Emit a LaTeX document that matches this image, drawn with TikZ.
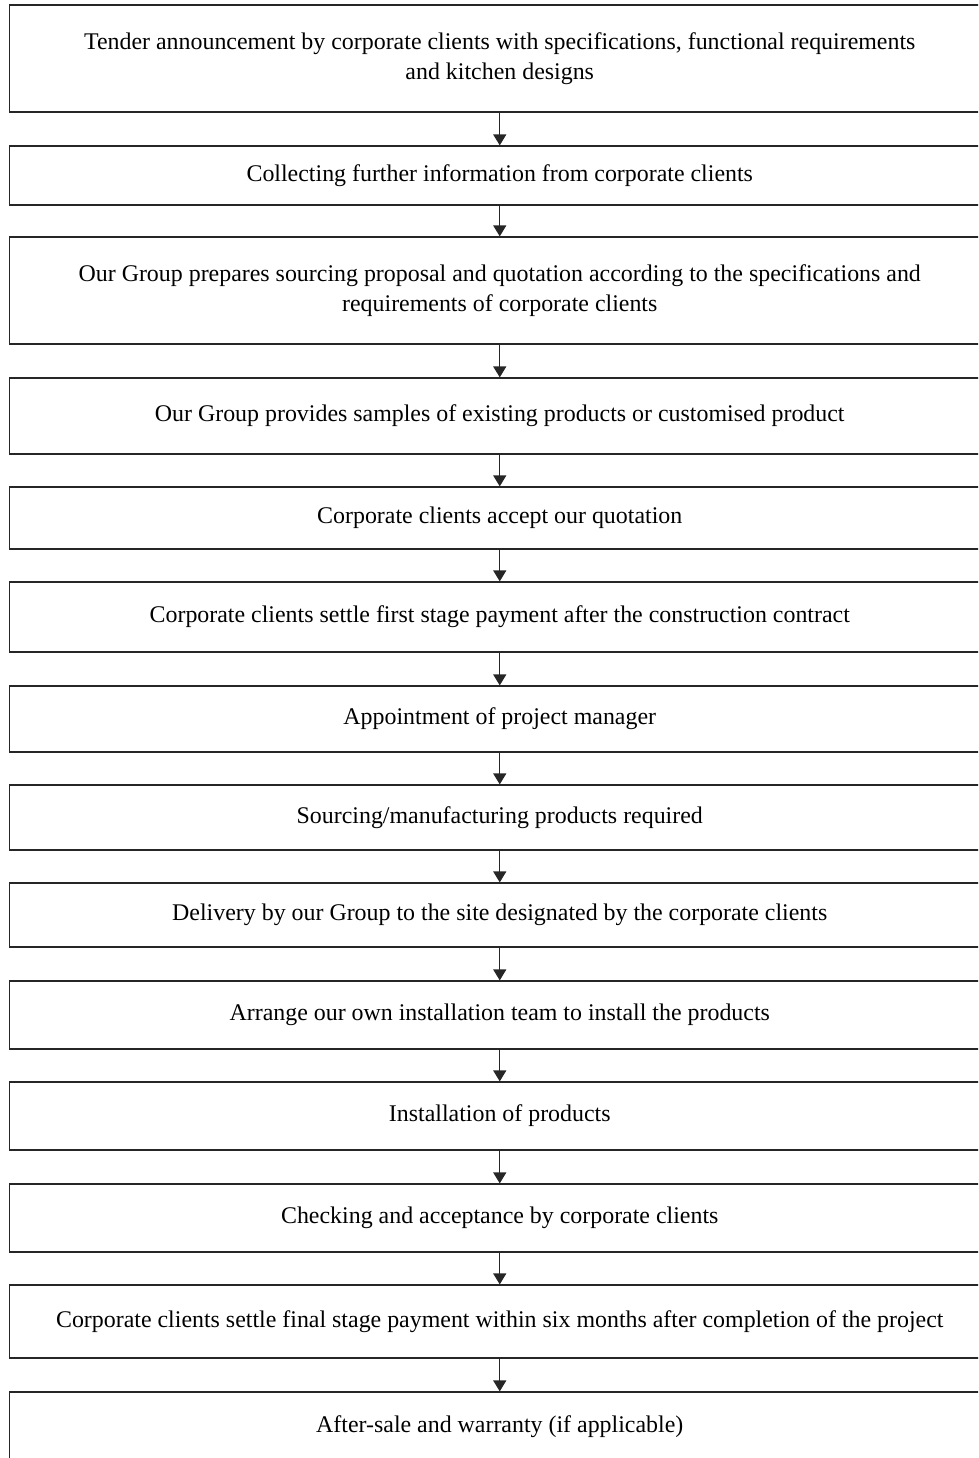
\documentclass[tikz,border=0pt]{standalone}
\usepackage{fontspec}
\setmainfont{Liberation Serif}
\usetikzlibrary{arrows.meta}
\begin{document}
\begin{tikzpicture}[x=1pt,y=-1pt,
  stepbox/.style={draw=black!85, line width=1.2pt, fill=white, align=center,
    inner sep=0pt, minimum width=980.5pt, font=\fontsize{23.9}{29.5}\selectfont},
  flow/.style={draw=black!85, line width=1.3pt, -{Triangle[width=13pt,length=11pt]}}]
\useasboundingbox (0,0) rectangle (978,1458);
\clip (0,0) rectangle (978,1458);
% process steps: centre x, centre y, height
\node[stepbox, minimum height=107pt] (s1) at (499.75,58.5)
  {Tender announcement by corporate clients with specifications, functional requirements\\and kitchen designs};
\node[stepbox, minimum height=59pt] (s2) at (499.75,175.5)
  {Collecting further information from corporate clients};
\node[stepbox, minimum height=107pt] (s3) at (499.75,290.5)
  {Our Group prepares sourcing proposal and quotation according to the specifications and\\requirements of corporate clients};
\node[stepbox, minimum height=76pt] (s4) at (499.75,416)
  {Our Group provides samples of existing products or customised product};
\node[stepbox, minimum height=62pt] (s5) at (499.75,518)
  {Corporate clients accept our quotation};
\node[stepbox, minimum height=70pt] (s6) at (499.75,617)
  {Corporate clients settle first stage payment after the construction contract};
\node[stepbox, minimum height=66pt] (s7) at (499.75,719)
  {Appointment of project manager};
\node[stepbox, minimum height=65pt] (s8) at (499.75,817.5)
  {Sourcing/manufacturing products required};
\node[stepbox, minimum height=64pt] (s9) at (499.75,915)
  {Delivery by our Group to the site designated by the corporate clients};
\node[stepbox, minimum height=68pt] (s10) at (499.75,1015)
  {Arrange our own installation team to install the products};
\node[stepbox, minimum height=68pt] (s11) at (499.75,1116)
  {Installation of products};
\node[stepbox, minimum height=68pt] (s12) at (499.75,1218)
  {Checking and acceptance by corporate clients};
\node[stepbox, minimum height=73pt] (s13) at (499.75,1321.5)
  {Corporate clients settle final stage payment within six months after completion of the project};
\node[stepbox, minimum height=70pt] (s14) at (499.75,1427)
  {After-sale and warranty (if applicable)};
% connectors
\foreach \a/\b in {s1/s2,s2/s3,s3/s4,s4/s5,s5/s6,s6/s7,s7/s8,s8/s9,s9/s10,s10/s11,s11/s12,s12/s13,s13/s14}
  \draw[flow] (\a.south) -- (\b.north);
\end{tikzpicture}
\end{document}
